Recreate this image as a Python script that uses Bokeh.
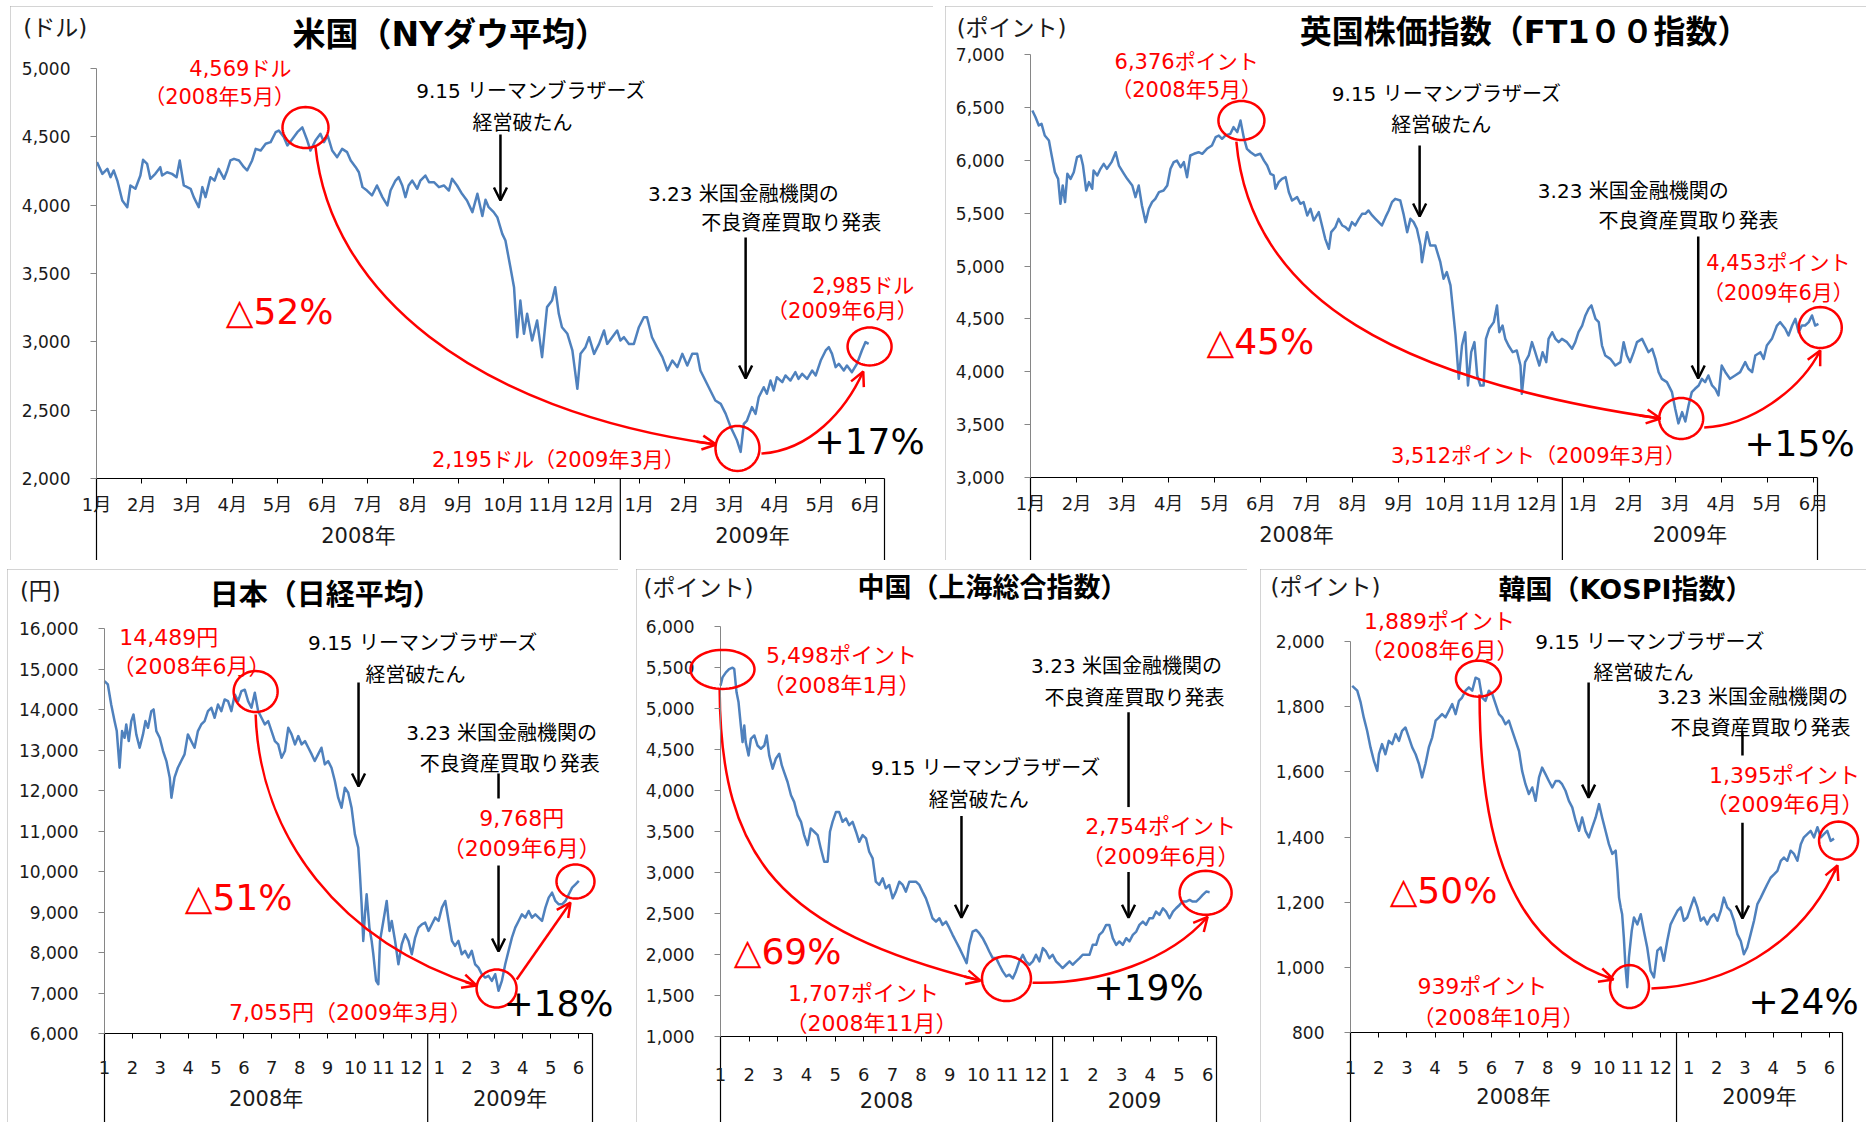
import math
from bokeh.plotting import figure
from bokeh.models import (Range1d, FixedTicker, NumeralTickFormatter, CustomJSTickFormatter,
                          Label, Arrow, OpenHead, PolyAnnotation, Spacer)
from bokeh.layouts import column, row
from bokeh.embed import file_html
from bokeh.resources import INLINE

MIX = "DejaVu Sans, Noto Sans CJK JP"
NUM = "DejaVu Sans"
BLUE = "#4F81BD"
RED = "#FF0000"

# ---------------- data ----------------
months_kanji = ["1月", "2月", "3月", "4月", "5月", "6月", "7月", "8月", "9月", "10月", "11月", "12月",
                "1月", "2月", "3月", "4月", "5月", "6月"]
months_digit = ["1", "2", "3", "4", "5", "6", "7", "8", "9", "10", "11", "12",
                "1", "2", "3", "4", "5", "6"]
years_kanji = ["2008年", "2009年"]
years_digit = ["2008", "2009"]

us_yticks = [2000, 2500, 3000, 3500, 4000, 4500, 5000]
uk_yticks = [3000, 3500, 4000, 4500, 5000, 5500, 6000, 6500, 7000]
jp_yticks = [6000, 7000, 8000, 9000, 10000, 11000, 12000, 13000, 14000, 15000, 16000]
cn_yticks = [1000, 1500, 2000, 2500, 3000, 3500, 4000, 4500, 5000, 5500, 6000]
kr_yticks = [800, 1000, 1200, 1400, 1600, 1800, 2000]

# (month position from Jan-2008, index value)
us_points = [
    (0.01, 4315), (0.13, 4229), (0.24, 4266), (0.31, 4205), (0.38, 4254), (0.46, 4180), (0.57, 4034),
    (0.68, 3985), (0.75, 4144), (0.86, 4120), (0.97, 4217), (1.03, 4332), (1.12, 4302), (1.19, 4193),
    (1.30, 4229), (1.41, 4278), (1.45, 4217), (1.56, 4241), (1.67, 4229), (1.77, 4205), (1.84, 4327),
    (1.93, 4144), (2.08, 4120), (2.15, 4059), (2.26, 3985), (2.34, 4132), (2.41, 4059), (2.52, 4205),
    (2.61, 4180), (2.70, 4266), (2.82, 4193), (2.89, 4254), (2.96, 4327), (3.04, 4339), (3.15, 4327),
    (3.26, 4278), (3.33, 4254), (3.44, 4327), (3.52, 4412), (3.63, 4400), (3.74, 4449), (3.85, 4461),
    (3.96, 4534), (4.03, 4546), (4.14, 4498), (4.22, 4437), (4.33, 4485), (4.44, 4534), (4.55, 4569),
    (4.66, 4473), (4.73, 4400), (4.84, 4473), (4.95, 4522), (5.03, 4461), (5.11, 4510), (5.21, 4400),
    (5.32, 4351), (5.43, 4412), (5.54, 4388), (5.62, 4327), (5.73, 4278), (5.80, 4241), (5.88, 4132),
    (5.98, 4107), (6.09, 4071), (6.20, 4144), (6.32, 4059), (6.43, 3998), (6.50, 4107), (6.61, 4180),
    (6.68, 4205), (6.76, 4144), (6.83, 4059), (6.90, 4144), (6.98, 4180), (7.09, 4120), (7.16, 4180),
    (7.27, 4217), (7.35, 4168), (7.46, 4168), (7.57, 4132), (7.68, 4144), (7.79, 4107), (7.86, 4193),
    (7.97, 4144), (8.08, 4083), (8.19, 4034), (8.31, 3949), (8.42, 4083), (8.53, 3920), (8.60, 4040),
    (8.67, 3985), (8.78, 3949), (8.86, 3912), (8.97, 3790), (9.04, 3741), (9.15, 3546), (9.23, 3400),
    (9.30, 3034), (9.37, 3302), (9.45, 3059), (9.52, 3205), (9.63, 3010), (9.74, 3156), (9.85, 2888),
    (9.96, 3254), (10.07, 3302), (10.14, 3400), (10.22, 3205), (10.29, 3107), (10.41, 3059), (10.52, 2937),
    (10.63, 2656), (10.70, 2912), (10.81, 2961), (10.89, 3034), (11.00, 2912), (11.11, 2985), (11.22, 3083),
    (11.29, 2985), (11.40, 3034), (11.51, 3083), (11.58, 3010), (11.66, 3034), (11.77, 2985), (11.88, 2985),
    (11.99, 3107), (12.10, 3180), (12.17, 3180), (12.28, 3034), (12.39, 2961), (12.51, 2888), (12.62, 2790),
    (12.73, 2863), (12.84, 2815), (12.95, 2912), (13.06, 2827), (13.17, 2912), (13.28, 2912), (13.35, 2790),
    (13.46, 2717), (13.57, 2644), (13.68, 2571), (13.80, 2546), (13.91, 2473), (14.02, 2376), (14.09, 2327),
    (14.16, 2278), (14.24, 2195), (14.31, 2400), (14.38, 2424), (14.49, 2522), (14.57, 2473), (14.64, 2595),
    (14.75, 2668), (14.82, 2620), (14.90, 2717), (14.97, 2644), (15.04, 2741), (15.16, 2705), (15.23, 2754),
    (15.34, 2717), (15.45, 2778), (15.52, 2729), (15.60, 2766), (15.71, 2729), (15.82, 2790), (15.90, 2754),
    (16.01, 2863), (16.12, 2937), (16.19, 2961), (16.26, 2912), (16.34, 2815), (16.41, 2839), (16.52, 2790),
    (16.59, 2827), (16.70, 2778), (16.81, 2839), (16.92, 2937), (17.00, 2998), (17.07, 2985),
]

uk_points = [
    (0.04, 6470), (0.11, 6407), (0.18, 6329), (0.24, 6344), (0.31, 6234), (0.40, 6187), (0.46, 6045),
    (0.53, 5887), (0.60, 5824), (0.65, 5588), (0.70, 5761), (0.75, 5604), (0.80, 5872), (0.87, 5824),
    (0.94, 5887), (1.01, 6029), (1.09, 6045), (1.14, 5950), (1.21, 5714), (1.27, 5793), (1.34, 5730),
    (1.37, 5903), (1.45, 5856), (1.52, 5919), (1.59, 5966), (1.66, 5919), (1.76, 5982), (1.85, 6076),
    (1.92, 5950), (2.03, 5872), (2.10, 5824), (2.21, 5761), (2.28, 5651), (2.35, 5761), (2.42, 5572),
    (2.50, 5415), (2.57, 5541), (2.64, 5604), (2.71, 5635), (2.79, 5698), (2.89, 5714), (2.97, 5761),
    (3.04, 5919), (3.11, 5982), (3.18, 5997), (3.26, 5934), (3.33, 5982), (3.40, 5840), (3.47, 6045),
    (3.55, 6061), (3.65, 6076), (3.73, 6061), (3.83, 6108), (3.94, 6140), (4.02, 6218), (4.09, 6234),
    (4.16, 6203), (4.23, 6234), (4.34, 6250), (4.41, 6313), (4.49, 6266), (4.56, 6376), (4.63, 6218),
    (4.70, 6108), (4.78, 6076), (4.88, 6045), (4.99, 6061), (5.07, 5997), (5.14, 5950), (5.21, 5872),
    (5.28, 5856), (5.32, 5730), (5.39, 5793), (5.46, 5824), (5.54, 5840), (5.61, 5698), (5.68, 5619),
    (5.79, 5651), (5.86, 5588), (5.93, 5604), (6.01, 5478), (6.08, 5541), (6.15, 5430), (6.26, 5509),
    (6.33, 5383), (6.40, 5257), (6.48, 5163), (6.53, 5320), (6.62, 5367), (6.69, 5446), (6.77, 5383),
    (6.84, 5367), (6.91, 5336), (6.98, 5415), (7.05, 5383), (7.13, 5446), (7.20, 5493), (7.27, 5493),
    (7.34, 5525), (7.42, 5478), (7.49, 5446), (7.56, 5415), (7.63, 5383), (7.71, 5462), (7.78, 5525),
    (7.85, 5604), (7.92, 5635), (8.03, 5619), (8.10, 5493), (8.18, 5320), (8.25, 5446), (8.32, 5415),
    (8.39, 5352), (8.47, 5194), (8.50, 5036), (8.61, 5320), (8.68, 5194), (8.79, 5194), (8.90, 5036),
    (8.97, 4879), (9.04, 4942), (9.12, 4816), (9.23, 4343), (9.30, 3933), (9.37, 4248), (9.44, 4374),
    (9.50, 3870), (9.57, 4185), (9.64, 4280), (9.70, 3965), (9.77, 3870), (9.84, 3870), (9.89, 4311),
    (9.96, 4406), (10.06, 4469), (10.13, 4627), (10.18, 4374), (10.25, 4437), (10.31, 4311), (10.38, 4248),
    (10.47, 4185), (10.56, 4201), (10.64, 4059), (10.67, 3791), (10.74, 4091), (10.82, 4154), (10.89, 4280),
    (10.96, 4185), (11.05, 4059), (11.12, 4185), (11.20, 4091), (11.25, 4311), (11.33, 4374), (11.40, 4311),
    (11.47, 4280), (11.54, 4311), (11.65, 4280), (11.76, 4217), (11.83, 4280), (11.90, 4374), (11.98, 4437),
    (12.05, 4532), (12.12, 4595), (12.18, 4627), (12.27, 4500), (12.34, 4469), (12.41, 4248), (12.48, 4154),
    (12.59, 4122), (12.70, 4059), (12.81, 4091), (12.88, 4280), (12.95, 4154), (13.02, 4091), (13.10, 4185),
    (13.17, 4280), (13.28, 4311), (13.35, 4248), (13.42, 4185), (13.50, 4217), (13.57, 4122), (13.64, 3996),
    (13.71, 3933), (13.82, 3902), (13.93, 3807), (14.00, 3650), (14.07, 3512), (14.15, 3618), (14.22, 3530),
    (14.29, 3681), (14.36, 3807), (14.43, 3839), (14.51, 3870), (14.58, 3933), (14.65, 3902), (14.72, 3965),
    (14.80, 3870), (14.87, 3839), (14.94, 3776), (15.01, 4059), (15.09, 3996), (15.19, 3933), (15.30, 3965),
    (15.41, 3996), (15.52, 4091), (15.59, 4028), (15.67, 3996), (15.74, 4154), (15.85, 4185), (15.92, 4122),
    (15.99, 4248), (16.10, 4311), (16.21, 4437), (16.28, 4469), (16.39, 4406), (16.46, 4343), (16.54, 4437),
    (16.61, 4500), (16.68, 4374), (16.75, 4437), (16.82, 4437), (16.90, 4469), (16.97, 4532), (17.04, 4437),
    (17.11, 4453),
]

jp_points = [
    (0.0, 14701), (0.12, 14618), (0.24, 14125), (0.36, 13714), (0.44, 13467), (0.54, 12562), (0.63, 13467),
    (0.72, 13303), (0.78, 13631), (0.87, 13220), (0.96, 13714), (1.04, 13878), (1.14, 13385), (1.26, 13056),
    (1.38, 13385), (1.47, 13714), (1.56, 13549), (1.68, 13960), (1.76, 14002), (1.86, 13467), (1.98, 13303),
    (2.10, 12974), (2.22, 12727), (2.34, 12316), (2.40, 11822), (2.51, 12316), (2.63, 12562), (2.75, 12727),
    (2.87, 12891), (2.99, 13385), (3.11, 13220), (3.23, 13056), (3.35, 13467), (3.47, 13631), (3.59, 13714),
    (3.71, 13960), (3.83, 14043), (3.95, 13796), (4.07, 14125), (4.19, 13960), (4.31, 14248), (4.43, 14207),
    (4.55, 13960), (4.67, 14372), (4.79, 14207), (4.91, 14454), (5.03, 14489), (5.15, 14207), (5.27, 14043),
    (5.39, 14413), (5.51, 13960), (5.63, 13796), (5.75, 13631), (5.87, 13714), (5.99, 13467), (6.11, 13220),
    (6.23, 13138), (6.35, 12809), (6.47, 12974), (6.59, 13549), (6.71, 13385), (6.83, 13138), (6.95, 13344),
    (7.07, 13138), (7.19, 13220), (7.31, 13056), (7.43, 12891), (7.54, 12727), (7.66, 12891), (7.78, 13056),
    (7.90, 12645), (8.02, 12727), (8.14, 12562), (8.26, 12233), (8.38, 11822), (8.50, 11575), (8.62, 12069),
    (8.74, 11945), (8.86, 11575), (8.98, 10918), (9.10, 10589), (9.16, 9931), (9.22, 9190), (9.28, 8286),
    (9.34, 8944), (9.40, 9437), (9.50, 8615), (9.58, 8286), (9.64, 7957), (9.74, 7299), (9.82, 7217),
    (9.88, 8286), (10.0, 8779), (10.12, 9273), (10.22, 8532), (10.30, 8779), (10.42, 8286), (10.54, 7710),
    (10.66, 8204), (10.78, 8450), (10.90, 8286), (11.02, 7957), (11.14, 8368), (11.26, 8615), (11.38, 8697),
    (11.50, 8738), (11.62, 8532), (11.74, 8697), (11.86, 8862), (11.98, 8779), (12.10, 9108), (12.22, 9273),
    (12.34, 8779), (12.46, 8286), (12.57, 8163), (12.69, 8286), (12.81, 7957), (12.93, 8039), (13.05, 7875),
    (13.17, 8039), (13.29, 7710), (13.41, 7628), (13.53, 7464), (13.65, 7381), (13.77, 7423), (13.89, 7299),
    (14.01, 7464), (14.13, 7055), (14.25, 7299), (14.37, 7710), (14.49, 8039), (14.61, 8368), (14.73, 8615),
    (14.85, 8779), (14.97, 8944), (15.09, 8862), (15.21, 9026), (15.33, 8862), (15.45, 8944), (15.57, 8862),
    (15.69, 8779), (15.81, 9108), (15.93, 9355), (16.05, 9478), (16.17, 9273), (16.29, 9190), (16.41, 9190),
    (16.53, 9273), (16.65, 9437), (16.77, 9602), (16.89, 9684), (17.01, 9768),
]

cn_points = [
    (0.0, 5279), (0.07, 5380), (0.19, 5441), (0.30, 5481), (0.42, 5498), (0.48, 5481), (0.56, 5198),
    (0.63, 5076), (0.71, 4792), (0.77, 4590), (0.83, 4792), (0.88, 4590), (0.98, 4428), (1.06, 4630),
    (1.18, 4671), (1.29, 4549), (1.41, 4509), (1.53, 4549), (1.61, 4671), (1.70, 4428), (1.82, 4266),
    (1.93, 4387), (2.05, 4448), (2.14, 4306), (2.22, 4225), (2.34, 4104), (2.46, 3942), (2.57, 3861),
    (2.69, 3700), (2.81, 3618), (2.92, 3456), (3.04, 3334), (3.15, 3537), (3.27, 3497), (3.39, 3456),
    (3.50, 3293), (3.62, 3131), (3.74, 3131), (3.82, 3497), (3.91, 3618), (4.03, 3739), (4.14, 3739),
    (4.26, 3618), (4.38, 3659), (4.49, 3577), (4.61, 3618), (4.73, 3497), (4.84, 3374), (4.96, 3456),
    (5.08, 3415), (5.19, 3253), (5.31, 3172), (5.42, 2888), (5.54, 2848), (5.66, 2929), (5.77, 2807),
    (5.89, 2848), (6.01, 2685), (6.12, 2767), (6.24, 2888), (6.36, 2848), (6.47, 2767), (6.59, 2888),
    (6.71, 2888), (6.82, 2888), (6.94, 2848), (7.05, 2767), (7.17, 2685), (7.29, 2564), (7.40, 2442),
    (7.52, 2401), (7.64, 2442), (7.75, 2361), (7.87, 2401), (7.99, 2321), (8.10, 2240), (8.22, 2159),
    (8.34, 2078), (8.45, 1997), (8.59, 1895), (8.68, 2118), (8.80, 2280), (8.92, 2300), (9.03, 2260),
    (9.15, 2199), (9.27, 2118), (9.38, 2037), (9.50, 1956), (9.62, 1956), (9.73, 1875), (9.85, 1794),
    (9.97, 1733), (10.08, 1754), (10.20, 1707), (10.31, 1794), (10.43, 1916), (10.55, 1997), (10.66, 1916),
    (10.78, 1875), (10.90, 1916), (11.01, 1997), (11.13, 1916), (11.25, 2078), (11.36, 2037), (11.48, 1956),
    (11.59, 1997), (11.71, 1916), (11.83, 1875), (11.94, 1835), (12.06, 1875), (12.18, 1916), (12.29, 1875),
    (12.41, 1916), (12.53, 1956), (12.64, 1997), (12.76, 1997), (12.88, 1997), (12.99, 2118), (13.11, 2118),
    (13.22, 2240), (13.34, 2280), (13.46, 2361), (13.57, 2361), (13.69, 2199), (13.81, 2118), (13.92, 2159),
    (14.04, 2118), (14.16, 2199), (14.27, 2159), (14.39, 2240), (14.51, 2280), (14.62, 2361), (14.74, 2401),
    (14.85, 2361), (14.97, 2442), (15.09, 2442), (15.20, 2523), (15.32, 2483), (15.44, 2564), (15.55, 2523),
    (15.67, 2442), (15.79, 2523), (15.90, 2564), (16.02, 2604), (16.13, 2645), (16.25, 2645), (16.37, 2665),
    (16.48, 2645), (16.60, 2645), (16.72, 2685), (16.83, 2726), (16.95, 2767), (17.07, 2760),
]

kr_points = [
    (0.06, 1864), (0.24, 1849), (0.36, 1813), (0.47, 1767), (0.59, 1726), (0.71, 1675), (0.83, 1634),
    (0.95, 1603), (1.01, 1654), (1.12, 1685), (1.24, 1654), (1.36, 1695), (1.48, 1685), (1.60, 1716),
    (1.72, 1695), (1.83, 1726), (1.95, 1736), (2.07, 1706), (2.19, 1675), (2.31, 1654), (2.43, 1624),
    (2.54, 1583), (2.66, 1624), (2.78, 1675), (2.90, 1706), (3.02, 1757), (3.14, 1767), (3.25, 1777),
    (3.37, 1767), (3.49, 1787), (3.61, 1808), (3.73, 1777), (3.85, 1818), (3.96, 1828), (4.08, 1849),
    (4.20, 1859), (4.32, 1849), (4.44, 1889), (4.56, 1884), (4.67, 1828), (4.79, 1818), (4.91, 1849),
    (5.03, 1839), (5.15, 1808), (5.27, 1777), (5.38, 1767), (5.50, 1746), (5.62, 1757), (5.74, 1726),
    (5.86, 1695), (5.98, 1664), (6.09, 1603), (6.21, 1562), (6.33, 1532), (6.45, 1552), (6.57, 1511),
    (6.69, 1583), (6.80, 1613), (6.92, 1593), (7.04, 1572), (7.16, 1552), (7.28, 1572), (7.40, 1572),
    (7.51, 1562), (7.63, 1542), (7.75, 1511), (7.87, 1491), (7.99, 1450), (8.11, 1419), (8.22, 1460),
    (8.34, 1419), (8.46, 1399), (8.58, 1430), (8.70, 1460), (8.82, 1501), (8.93, 1460), (9.05, 1419),
    (9.17, 1378), (9.29, 1348), (9.41, 1358), (9.47, 1296), (9.53, 1214), (9.59, 1184), (9.64, 1163),
    (9.70, 1092), (9.76, 1000), (9.82, 939), (9.88, 1030), (9.98, 1112), (10.06, 1153), (10.18, 1132),
    (10.30, 1163), (10.41, 1112), (10.53, 1061), (10.65, 989), (10.77, 969), (10.89, 1051), (11.01, 1061),
    (11.12, 1020), (11.24, 1081), (11.36, 1132), (11.48, 1153), (11.60, 1173), (11.72, 1184), (11.83, 1143),
    (11.95, 1153), (12.07, 1184), (12.19, 1214), (12.31, 1184), (12.43, 1143), (12.54, 1153), (12.66, 1132),
    (12.78, 1153), (12.90, 1163), (13.02, 1143), (13.14, 1173), (13.25, 1214), (13.37, 1184), (13.49, 1173),
    (13.61, 1143), (13.73, 1102), (13.85, 1081), (13.96, 1040), (14.08, 1061), (14.20, 1102), (14.32, 1143),
    (14.44, 1194), (14.56, 1214), (14.67, 1234), (14.79, 1255), (14.91, 1275), (15.03, 1285), (15.15, 1296),
    (15.27, 1327), (15.38, 1337), (15.50, 1327), (15.62, 1358), (15.74, 1348), (15.86, 1327), (15.98, 1378),
    (16.09, 1399), (16.21, 1409), (16.33, 1419), (16.45, 1399), (16.57, 1430), (16.69, 1399), (16.80, 1409),
    (16.92, 1419), (17.04, 1388), (17.16, 1395),
]

# ---------------- panel settings ----------------
# border = pixel distances of the plotting box (y axis, right box edge, top tick, x axis) from the panel edges
panels = [
    dict(size=(923, 554), border=(86, 49, 62, 82), box_right=17.42, divider=11.58, yticks=us_yticks,
         points=us_points, months=months_kanji, years=years_kanji, tick_size=17, month_size=18,
         month_standoff=10, year_dy=57, red_size=21,
         title=("米国（NYダウ平均）", 7.82, 5249, 33), unit=("(ドル)", -0.91, 5300),
         red=[("4,569ドル", 3.18, 5000), ("（2008年5月）", 2.72, 4795), ("2,195ドル（2009年3月）", 10.21, 2132),
              ("2,985ドル", 16.95, 3405), ("（2009年6月）", 16.49, 3222)],
         black=[("9.15 リーマンブラザーズ", 9.62, 4832), ("経営破たん", 9.42, 4598),
                ("3.23 米国金融機関の", 14.30, 4085), ("不良資産買取り発表", 15.36, 3866)],
         big=[("△52%", 4.05, 3222, RED), ("+17%", 17.09, 2271, "black")],
         arrows=[(8.93, 4517, 4034), (14.35, 3763, 2732)], lines=[],
         circles=[(4.62, 4568, 46, 41), (14.17, 2220, 44, 45), (17.09, 2966, 44, 38)],
         curves=[((4.84, 4429), (5.17, 3376), (8.27, 2498), (13.70, 2249)),
                 ((14.70, 2183), (15.78, 2205), (16.56, 2498), (16.95, 2783))],
         straight=[]),
    dict(size=(921, 554), border=(85, 49, 48, 83), box_right=17.09, divider=11.55, yticks=uk_yticks,
         points=uk_points, months=months_kanji, years=years_kanji, tick_size=17, month_size=18,
         month_standoff=10, year_dy=57, red_size=21,
         title=("英国株価指数（FT1００指数）", 10.73, 7217, 32), unit=("(ポイント)", -0.41, 7255),
         red=[("6,376ポイント", 3.39, 6933), ("（2008年5月）", 3.39, 6669),
              ("3,512ポイント（2009年3月）", 11.03, 3208), ("4,453ポイント", 16.24, 5033),
              ("（2009年6月）", 16.24, 4740)],
         black=[("9.15 リーマンブラザーズ", 9.05, 6631), ("経営破たん", 8.92, 6329),
                ("3.23 米国金融機関の", 13.09, 5705), ("不良資産買取り発表", 14.29, 5421)],
         big=[("△45%", 4.99, 4286, RED), ("+15%", 16.70, 3322, "black")],
         arrows=[(8.45, 6139, 5468), (14.50, 5279, 3936)], lines=[],
         circles=[(4.58, 6376, 46, 39), (14.13, 3558, 44, 41), (17.15, 4418, 43, 41)],
         curves=[((4.47, 6177), (4.78, 4674), (8.03, 3917), (13.68, 3558)),
                 ((14.63, 3473), (15.63, 3492), (16.71, 3823), (17.15, 4201))],
         straight=[]),
    dict(size=(611, 553), border=(97, 26, 59, 89), box_right=17.50, divider=11.59, yticks=jp_yticks,
         points=jp_points, months=months_digit, years=years_kanji, tick_size=17, month_size=18,
         month_standoff=22, year_dy=65, red_size=22,
         title=("日本（日経平均）", 7.93, 16839, 29), unit=("(円)", -2.30, 16938),
         red=[("14,489円", 2.30, 15778), ("（2008年6月）", 3.12, 15062), ("9,768円", 14.96, 11309),
              ("（2009年6月）", 14.96, 10568), ("7,055円（2009年3月）", 8.82, 6519)],
         black=[("9.15 リーマンブラザーズ", 11.44, 15654), ("経営破たん", 11.15, 14864),
                ("3.23 米国金融機関の", 14.24, 13432), ("不良資産買取り発表", 14.53, 12642)],
         big=[("△51%", 4.81, 9358, RED), ("+18%", 16.28, 6741, "black")],
         arrows=[(9.11, 14667, 12099), (14.13, 10149, 8025)], lines=[(14.13, 12420, 11803)],
         circles=[(5.42, 14444, 44, 41), (14.06, 7111, 40, 38), (16.89, 9753, 38, 34)],
         curves=[((5.42, 13877), (5.56, 10864), (8.43, 8272), (13.34, 7186))],
         straight=[((14.78, 7334), (16.71, 9235))]),
    dict(size=(611, 553), border=(84, 31, 57, 86), box_right=17.31, divider=11.59, yticks=cn_yticks,
         points=cn_points, months=months_digit, years=years_digit, tick_size=17, month_size=18,
         month_standoff=26, year_dy=63, red_size=22,
         title=("中国（上海総合指数）", 9.49, 6474, 27), unit=("(ポイント)", -0.77, 6474),
         red=[("5,498ポイント", 4.22, 5647), ("（2008年1月）", 4.22, 5282), ("2,754ポイント", 15.36, 3555),
              ("（2009年6月）", 15.36, 3190), ("1,707ポイント", 4.99, 1523), ("（2008年11月）", 5.27, 1158)],
         black=[("3.23 米国金融機関の", 14.17, 5513), ("不良資産買取り発表", 14.45, 5124),
                ("9.15 リーマンブラザーズ", 9.28, 4273), ("経営破たん", 9.01, 3883)],
         big=[("△69%", 2.34, 2034, RED), ("+19%", 14.94, 1596, "black")],
         arrows=[(8.41, 3689, 2448), (14.24, 3007, 2448)], lines=[(14.24, 4954, 3798)],
         circles=[(0.07, 5477, 64, 39), (9.98, 1706, 49, 45), (16.93, 2752, 52, 44)],
         curves=[((-0.03, 5234), (0.0, 3153), (2.09, 2302), (9.07, 1681)),
                 ((10.89, 1657), (13.26, 1633), (15.71, 1937), (17.0, 2460))],
         straight=[]),
    dict(size=(606, 553), border=(90, 24, 72, 90), box_right=17.46, divider=11.57, yticks=kr_yticks,
         points=kr_points, months=months_digit, years=years_kanji, tick_size=17, month_size=18,
         month_standoff=23, year_dy=64, red_size=22,
         title=("韓国（KOSPI指数）", 9.76, 2160, 27), unit=("(ポイント)", -0.89, 2166),
         red=[("1,889ポイント", 3.16, 2061), ("（2008年6月）", 3.16, 1972), ("1,395ポイント", 15.40, 1589),
              ("（2009年6月）", 15.40, 1500), ("939ポイント", 4.68, 941), ("（2008年10月）", 5.25, 846)],
         black=[("9.15 リーマンブラザーズ", 10.65, 1997), ("経営破たん", 10.40, 1902),
                ("3.23 米国金融機関の", 14.27, 1831), ("不良資産買取り発表", 14.55, 1736)],
         big=[("△50%", 3.30, 1236, RED), ("+24%", 16.08, 895, "black")],
         arrows=[(8.45, 1874, 1521), (13.91, 1444, 1150)], lines=[(13.91, 1721, 1650)],
         circles=[(4.54, 1886, 45, 36), (9.90, 941, 39, 43), (17.32, 1389, 39, 38)],
         curves=[((4.58, 1837), (4.58, 1389), (5.68, 1067), (9.33, 963)),
                 ((10.68, 935), (13.13, 944), (15.97, 1052), (17.28, 1313))],
         straight=[]),
]


def label(p, x, y, text, size, color="black", bold=False, font=MIX):
    p.add_layout(Label(x=x, y=y, text=text, text_font=font, text_font_size=f"{size}px",
                       text_color=color, text_font_style="bold" if bold else "normal",
                       text_align="center", text_baseline="middle"))


def build(cfg):
    w, h = cfg["size"]
    bl, br, bt, bb = cfg["border"]
    xr = cfg["box_right"]
    yt = cfg["yticks"]
    y0, y1 = yt[0], yt[-1]
    fw, fh = w - bl - br, h - bt - bb
    kx, ky = xr / fw, (y1 - y0) / fh
    # the frame covers the whole panel; axes are pinned inside it
    x_start, x_end = -bl * kx, xr + br * kx
    y_start, y_end = y0 - bb * ky, y1 + bt * ky

    p = figure(width=w, height=h, x_range=Range1d(x_start, x_end), y_range=Range1d(y_start, y_end),
               output_backend="svg", toolbar_location=None, tools="",
               min_border=0, min_border_left=0, min_border_right=0, min_border_top=0, min_border_bottom=0)
    p.title.visible = False
    p.styles = {"outline": "2px solid #a8a8a8", "outline-offset": "-2px"}
    p.outline_line_color = None
    p.xgrid.visible = False
    p.ygrid.visible = False
    p.background_fill_color = "white"
    p.border_fill_color = "white"

    # y axis
    ya = p.yaxis[0]
    ya.fixed_location = 0
    ya.bounds = (y0, y1)
    ya.ticker = FixedTicker(ticks=yt)
    ya.formatter = NumeralTickFormatter(format="0,0")
    ya.axis_line_color = "#868686"
    ya.major_tick_line_color = "#868686"
    ya.major_tick_out = 6
    ya.major_tick_in = 0
    ya.minor_tick_line_color = None
    ya.major_label_text_font = NUM
    ya.major_label_text_font_size = f"{cfg['tick_size']}px"
    ya.major_label_text_color = "#1a1a1a"
    ya.major_label_standoff = 20

    # x axis (months)
    xa = p.xaxis[0]
    xa.fixed_location = y0
    xa.bounds = (0, xr)
    xa.ticker = FixedTicker(ticks=list(range(len(cfg["months"]))))
    xa.formatter = CustomJSTickFormatter(
        args=dict(labels=cfg["months"]),
        code="const i = Math.round(tick); return (i >= 0 && i < labels.length) ? labels[i] : '';")
    xa.axis_line_color = "black"
    xa.axis_line_width = 1.2
    xa.major_tick_line_color = "black"
    xa.major_tick_out = 5
    xa.major_tick_in = 0
    xa.minor_tick_line_color = None
    xa.major_label_text_font = MIX
    xa.major_label_text_font_size = f"{cfg['month_size']}px"
    xa.major_label_text_color = "#1a1a1a"
    xa.major_label_standoff = cfg["month_standoff"]

    # category box lines below the axis
    bx = [0, cfg["divider"], xr]
    p.segment(x0=bx, y0=[y0] * 3, x1=bx, y1=[y_start] * 3, line_color="black", line_width=1.2)

    # data line
    xs = [pt[0] for pt in cfg["points"]]
    ys = [pt[1] for pt in cfg["points"]]
    p.line(xs, ys, line_color=BLUE, line_width=2.5, line_join="round")

    # year labels
    centers = [cfg["divider"] / 2.0, (cfg["divider"] + xr) / 2.0]
    for txt, cx in zip(cfg["years"], centers):
        label(p, cx, y0 - cfg["year_dy"] * ky, txt, 21, "#1a1a1a")

    # title and unit
    t, tx, ty, ts = cfg["title"]
    label(p, tx, ty, t, ts, "black", bold=True)
    u, ux, uy = cfg["unit"]
    label(p, ux, uy, u, 23, "#1a1a1a")

    # red curves with arrow heads
    for (p0, c0, c1, p3) in cfg["curves"]:
        p.bezier(x0=[p0[0]], y0=[p0[1]], x1=[p3[0]], y1=[p3[1]],
                 cx0=[c0[0]], cy0=[c0[1]], cx1=[c1[0]], cy1=[c1[1]],
                 line_color=RED, line_width=2.5)
        sx = p3[0] + 0.08 * (c1[0] - p3[0])
        sy = p3[1] + 0.08 * (c1[1] - p3[1])
        p.add_layout(Arrow(x_start=sx, y_start=sy, x_end=p3[0], y_end=p3[1],
                           line_color=RED, line_width=2.5,
                           end=OpenHead(size=14, line_color=RED, line_width=2.5)))
    for (a, b) in cfg["straight"]:
        p.add_layout(Arrow(x_start=a[0], y_start=a[1], x_end=b[0], y_end=b[1],
                           line_color=RED, line_width=2.5,
                           end=OpenHead(size=14, line_color=RED, line_width=2.5)))

    # red circles
    n = 60
    for (cx, cy, wpx, hpx) in cfg["circles"]:
        exs = [cx + wpx / 2.0 * kx * math.cos(2 * math.pi * i / n) for i in range(n)]
        eys = [cy + hpx / 2.0 * ky * math.sin(2 * math.pi * i / n) for i in range(n)]
        p.add_layout(PolyAnnotation(xs=exs, ys=eys, fill_color=None, fill_alpha=0,
                                    line_color=RED, line_alpha=1.0, line_width=2.5))

    # black arrows and plain lines
    for (x, ya_, yb_) in cfg["arrows"]:
        p.add_layout(Arrow(x_start=x, y_start=ya_, x_end=x, y_end=yb_, line_color="black", line_width=2.5,
                           end=OpenHead(size=13, line_color="black", line_width=2.5)))
    for (x, ya_, yb_) in cfg["lines"]:
        p.add_layout(Arrow(x_start=x, y_start=ya_, x_end=x, y_end=yb_, line_color="black", line_width=2.5,
                           end=None))

    # texts
    for (t, x, y) in cfg["red"]:
        label(p, x, y, t, cfg["red_size"], RED)
    for (t, x, y) in cfg["black"]:
        label(p, x, y, t, 20, "black")
    for (t, x, y, c) in cfg["big"]:
        label(p, x, y, t, 36, c)
    return p


figs = [build(c) for c in panels]

top = row(Spacer(width=10, height=554), figs[0], Spacer(width=12, height=554), figs[1])
bottom = row(Spacer(width=7, height=553), figs[2], Spacer(width=18, height=553), figs[3],
             Spacer(width=13, height=553), figs[4])
layout = column(Spacer(width=1866, height=6), top, Spacer(width=1866, height=9), bottom)

with open("out.html", "w", encoding="utf-8") as f:
    f.write(file_html(layout, INLINE, title="世界の株価の推移"))
